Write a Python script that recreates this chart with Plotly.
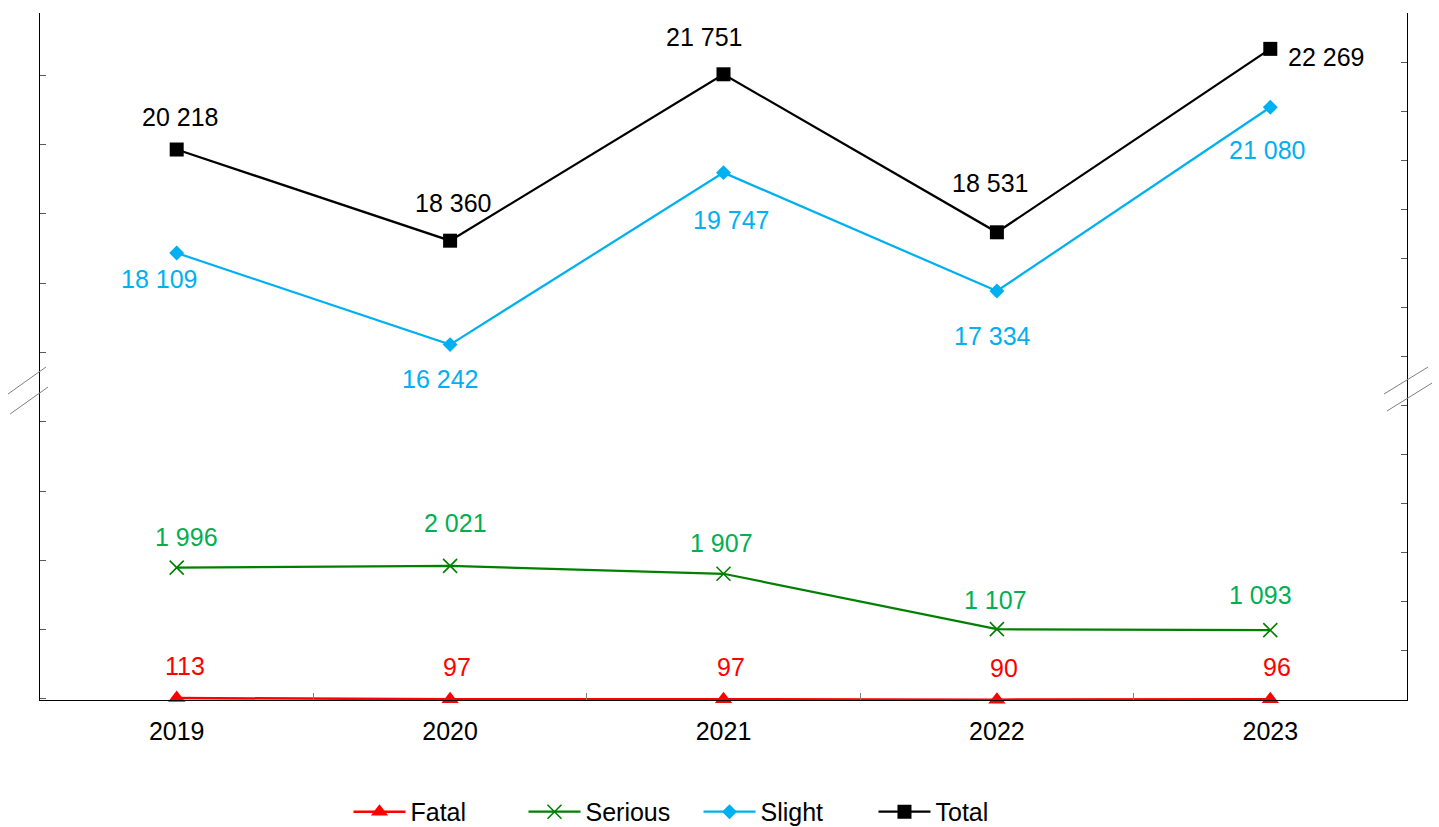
import plotly.graph_objects as go

# Road casualties by severity, 2019-2023
years = ["2019", "2020", "2021", "2022", "2023"]
fatal = [113, 97, 97, 90, 96]
serious = [1996, 2021, 1907, 1107, 1093]
slight = [18109, 16242, 19747, 17334, 21080]
total = [20218, 18360, 21751, 18531, 22269]

# Label placement (pixel offsets from each marker: dx, dy-up)
fatal_off = [(8, 32), (7, 32), (7, 32), (7, 32), (7, 32)]
serious_off = [(10, 31), (5, 43), (-2, 31), (-1, 29), (-10, 35)]
slight_off = [(-18, -26), (-10, -34), (7, -47), (-4, -45), (-3, -43)]
total_off = [(3, 33), (3, 38), (-20, 37), (-7, 49), (56, -8)]

FONT = "Liberation Sans, Arial, sans-serif"
RED = "#FF0000"
GREEN_LINE = "#008000"
GREEN_TEXT = "#00B050"
BLUE = "#00B0F0"
BLACK = "#000000"


def fmt(v):
    return f"{v:,}".replace(",", " ")


fig = go.Figure()

fig.add_trace(go.Scatter(
    x=years, y=fatal, name="Fatal", mode="lines+markers", yaxis="y",
    line=dict(color=RED, width=2.5), cliponaxis=False,
    marker=dict(symbol="triangle-up", size=15, color=RED),
))
fig.add_trace(go.Scatter(
    x=years, y=serious, name="Serious", mode="lines+markers", yaxis="y",
    line=dict(color=GREEN_LINE, width=2.25),
    marker=dict(symbol="x-thin", size=14, color=GREEN_LINE,
                line=dict(color=GREEN_LINE, width=1.6)),
))
fig.add_trace(go.Scatter(
    x=years, y=slight, name="Slight", mode="lines+markers", yaxis="y2",
    line=dict(color=BLUE, width=2.25),
    marker=dict(symbol="diamond", size=11.5, color=BLUE),
))
fig.add_trace(go.Scatter(
    x=years, y=total, name="Total", mode="lines+markers", yaxis="y2",
    line=dict(color=BLACK, width=2.25),
    marker=dict(symbol="square", size=14, color=BLACK),
))

# Value labels; x is given as the category index of each year
annotations = []
for vals, offs, color, yref in [
    (fatal, fatal_off, RED, "y"),
    (serious, serious_off, GREEN_TEXT, "y"),
    (slight, slight_off, BLUE, "y2"),
    (total, total_off, BLACK, "y2"),
]:
    for i, (v, (dx, dy)) in enumerate(zip(vals, offs)):
        annotations.append(dict(
            x=i, y=v, xref="x", yref=yref, text=fmt(v), showarrow=False,
            xshift=dx, yshift=dy, font=dict(family=FONT, size=25, color=color),
        ))

# Axis-break marks on both vertical axes
brk = dict(type="line", xref="paper", yref="paper",
           line=dict(color="#7F7F7F", width=1))
shapes = [
    dict(brk, x0=-0.0234, y0=0.4454, x1=0.0044, y1=0.4847),
    dict(brk, x0=-0.0219, y0=0.4163, x1=0.0059, y1=0.4556),
    dict(brk, x0=0.9832, y0=0.4454, x1=1.0154, y1=0.4847),
    dict(brk, x0=0.9854, y0=0.4207, x1=1.0183, y1=0.4614),
]

fig.update_layout(
    width=1439, height=827,
    margin=dict(l=40, r=32, t=13, b=127, autoexpand=False),
    paper_bgcolor="white", plot_bgcolor="white",
    font=dict(family=FONT, size=25, color="black"),
    showlegend=True,
    legend=dict(orientation="h", x=0.4817, xanchor="center", y=-0.163,
                yanchor="middle", font=dict(family=FONT, size=25),
                bgcolor="rgba(0,0,0,0)", itemwidth=52,
                entrywidth=108, entrywidthmode="pixels"),
    xaxis=dict(
        type="category", range=[-0.5, 4.5], showgrid=False, zeroline=False,
        showline=True, linecolor="black", linewidth=1.25,
        ticks="inside", tickson="boundaries", ticklen=7, tickcolor="#7F7F7F",
        tickwidth=1, tickfont=dict(family=FONT, size=25, color="black"),
        ticklabelstandoff=9,
    ),
    yaxis=dict(
        range=[85, 10000], tickvals=list(range(100, 10000, 1000)),
        showticklabels=False, showgrid=False, zeroline=False,
        showline=True, linecolor="black", linewidth=1.25,
        ticks="inside", ticklen=6, tickcolor="#595959", tickwidth=1,
    ),
    yaxis2=dict(
        range=[9000, 23000], tickvals=list(range(9000, 23000, 1000)),
        overlaying="y", side="right", anchor="x",
        showticklabels=False, showgrid=False, zeroline=False,
        showline=True, linecolor="black", linewidth=1.25,
        ticks="inside", ticklen=6, tickcolor="#595959", tickwidth=1,
    ),
    annotations=annotations,
    shapes=shapes,
)

fig.write_html("out.html")
